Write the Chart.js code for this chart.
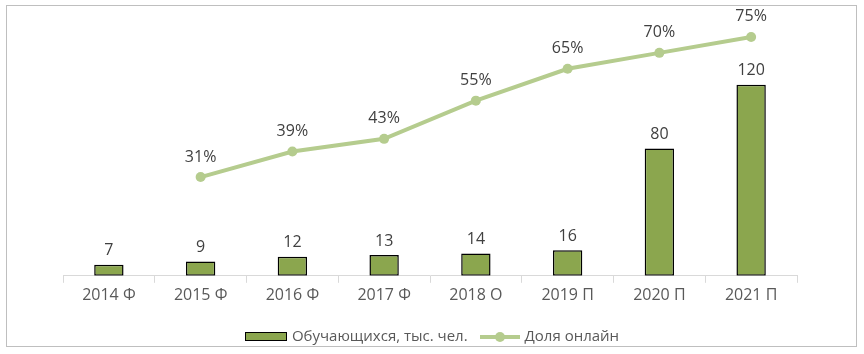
<!DOCTYPE html>
<html>
<head>
<meta charset="utf-8">
<script src="https://cdn.jsdelivr.net/npm/chart.js@4/dist/chart.umd.min.js"></script>
<style>
  html, body { margin: 0; padding: 0; background: #fff; }
  #wrap { position: relative; width: 864px; height: 354px; }
  #frame { position: absolute; left: 6px; top: 5px; width: 851px; height: 342px; border: 1px solid #bfbfbf; box-sizing: border-box; }
  #legend { position: absolute; left: 0; top: 323px; width: 864px; text-align: center; font-family: "Open Sans", sans-serif; font-size: 15px; color: #595959; white-space: nowrap; }
  .item { display: inline-block; vertical-align: middle; margin: 0 4px; }
  .box { display: inline-block; width: 40px; height: 7px; background: #8ba64e; border: 1px solid #000; vertical-align: middle; margin-right: 5px; }
  .ln { display: inline-block; position: relative; width: 40px; height: 4px; background: #b5cc8e; vertical-align: middle; margin-right: 5px; }
  .ln:after { content: ""; position: absolute; left: 15px; top: -3px; width: 10px; height: 10px; border-radius: 50%; background: #b5cc8e; }
</style>
</head>
<body>
<div id="wrap">
  <canvas id="myChart" width="864" height="354"></canvas>
  <div id="frame"></div>
  <div id="legend">
    <span class="item"><span class="box"></span>Обучающихся, тыс. чел.</span>
    <span class="item"><span class="ln"></span>Доля онлайн</span>
  </div>
</div>
<script>
// данные
var labels = ['2014 Ф', '2015 Ф', '2016 Ф', '2017 Ф', '2018 О', '2019 П', '2020 П', '2021 П']
var students = [7, 9, 12, 13, 14, 16, 80, 120]
var onlineShare = [null, 31, 39, 43, 55, 65, 70, 75]

var barColor = '#8ba64e'
var lineColor = '#b5cc8e'

// подписи значений над столбцами и точками
const valueLabels = {
  id: 'valueLabels',
  afterDatasetsDraw(chart) {
    const ctx = chart.ctx
    ctx.save()
    ctx.font = '16px "Open Sans", sans-serif'
    ctx.fillStyle = '#404040'
    ctx.textAlign = 'center'
    ctx.textBaseline = 'middle'
    chart.data.datasets.forEach((ds, i) => {
      const meta = chart.getDatasetMeta(i)
      meta.data.forEach((el, j) => {
        const v = ds.data[j]
        if (v === null) return
        if (ds.type === 'line') {
          ctx.fillText(v + '%', el.x, el.y - 20)
        } else {
          ctx.fillText(v, el.x, el.y - 14)
        }
      })
    })
    ctx.restore()
  }
}

const data = {
  labels: labels,
  datasets: [
    {
      type: 'line',
      label: 'Доля онлайн',
      data: onlineShare,
      yAxisID: 'y1',
      borderColor: lineColor,
      backgroundColor: lineColor,
      borderWidth: 4,
      pointRadius: 5,
      pointBorderWidth: 0,
      pointBackgroundColor: lineColor,
      tension: 0,
      order: 0
    },
    {
      type: 'bar',
      label: 'Обучающихся, тыс. чел.',
      data: students,
      yAxisID: 'y',
      backgroundColor: barColor,
      borderColor: '#000',
      borderWidth: 1.5,
      borderSkipped: false,
      barPercentage: 0.32,
      categoryPercentage: 1,
      order: 1
    }
  ]
}

const config = {
  type: 'bar',
  data: data,
  options: {
    responsive: false,
    animation: false,
    layout: { padding: { left: 63, right: 67, top: 21, bottom: 46 } },
    plugins: {
      legend: { display: false },
      tooltip: { enabled: false }
    },
    scales: {
      x: {
        grid: {
          offset: true,
          drawOnChartArea: false,
          color: '#d9d9d9',
          tickLength: 7
        },
        border: { color: '#d9d9d9' },
        ticks: {
          color: '#595959',
          font: { family: '"Open Sans", sans-serif', size: 16 },
          padding: 3
        }
      },
      y: { display: false, min: 0, max: 160 },
      y1: { display: false, min: 0, max: 80 }
    }
  },
  plugins: [valueLabels]
}

var myChart = new Chart('myChart', config)
</script>
</body>
</html>
